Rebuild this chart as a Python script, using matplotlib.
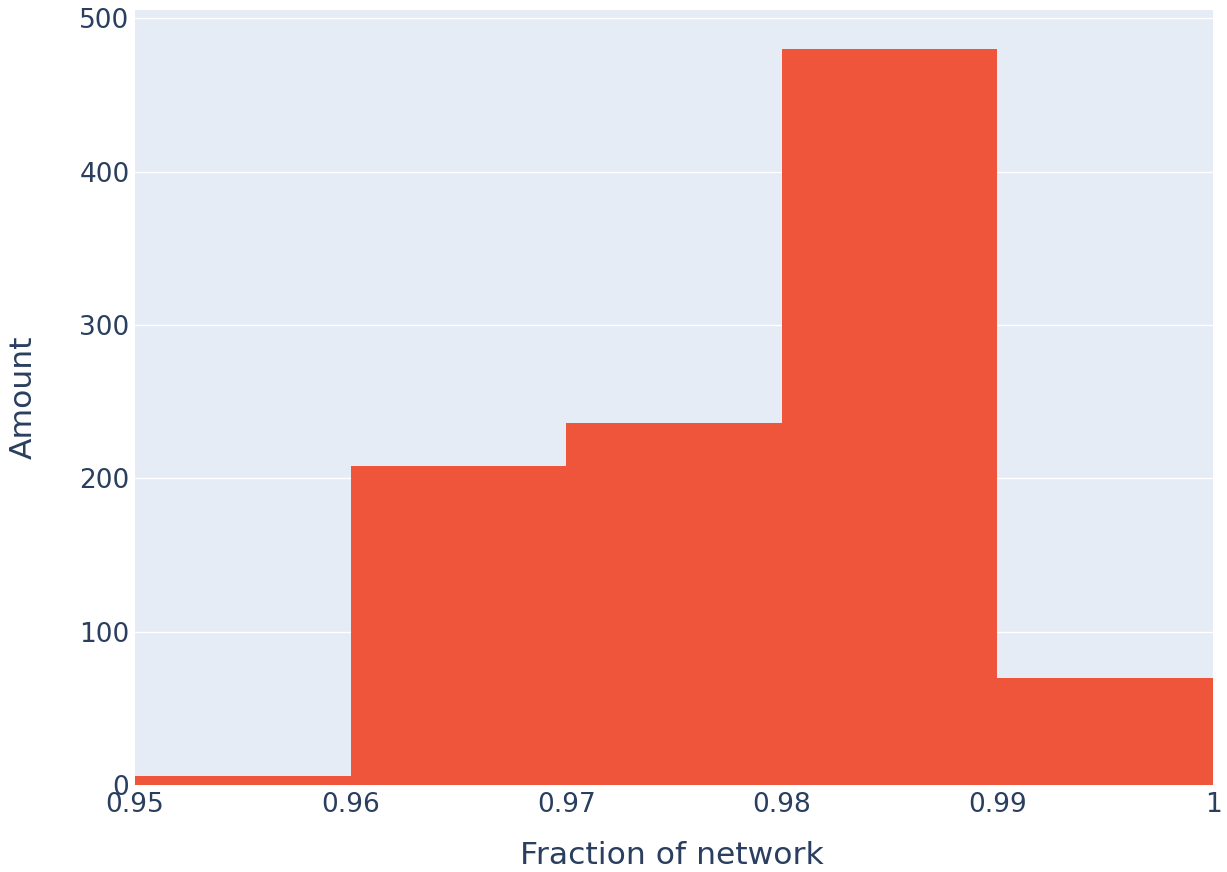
import matplotlib
matplotlib.use('Agg')
import matplotlib.pyplot as plt
import numpy as np

# histogram bins and counts
bin_edges = [0.95, 0.96, 0.97, 0.98, 0.99, 1.0]
counts = [6, 208, 236, 480, 70]
y_ticks = [0, 100, 200, 300, 400, 500]
x_ticks = [0.95, 0.96, 0.97, 0.98, 0.99, 1.0]
x_tick_labels = ['0.95', '0.96', '0.97', '0.98', '0.99', '1']

text_color = '#2a3f5f'
bar_color = '#EF553B'
bg_color = '#E5ECF6'

plt.rcParams['font.family'] = ['DejaVu Sans']

W, H = 1227, 872
fig = plt.figure(figsize=(W / 100, H / 100), dpi=100)
# plot area in pixels: left 135, right 1213, top 10, bottom 785
ax = fig.add_axes([135 / W, 1 - 785 / H, (1213 - 135) / W, (785 - 10) / H])
ax.set_facecolor(bg_color)

widths = np.diff(bin_edges)
ax.bar(bin_edges[:-1], counts, width=widths, align='edge', color=bar_color,
       edgecolor='none', linewidth=0, zorder=3)

ax.set_xlim(0.95, 1.0)
ax.set_ylim(0, 505.5)
ax.set_yticks(y_ticks)
ax.set_xticks(x_ticks)
ax.set_xticklabels(x_tick_labels)
ax.grid(axis='y', color='white', linewidth=1.0, zorder=1)
ax.grid(axis='x', visible=False)
for s in ax.spines.values():
    s.set_visible(False)
ax.tick_params(length=0, labelsize=19.0, colors=text_color)
ax.tick_params(axis='y', pad=4)
ax.tick_params(axis='x', pad=5)

fig.text(672 / W, 1 - 855 / H, 'Fraction of network', ha='center', va='center',
         fontsize=22.6, color=text_color)
fig.text(23 / W, 1 - 397 / H, 'Amount', ha='center', va='center',
         rotation='vertical', fontsize=22.6, color=text_color)

fig.savefig('out.png', dpi=100)
